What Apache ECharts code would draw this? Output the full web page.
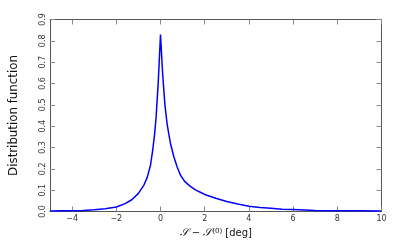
<!DOCTYPE html>
<html><head><meta charset="utf-8">
<script src="https://cdn.jsdelivr.net/npm/echarts@6/dist/echarts.min.js"></script>
<style>html,body{margin:0;padding:0;background:#fff}#c{width:415px;height:244px}</style>
</head><body><div id="c"></div>
<script>
var xValues = [-5, -4.5, -4, -3.5, -3, -2.5, -2, -1.6, -1.3, -1.0, -0.75, -0.6, -0.45, -0.35, -0.27, -0.2, -0.1, 0,
  0.1, 0.2, 0.3, 0.38, 0.45, 0.6, 0.75, 0.9, 1.1, 1.35, 1.6, 1.8, 2.0, 2.5, 3.0, 3.5, 4.0, 4.5, 5.0, 5.5, 6, 7, 8, 9, 10];
var yValues = [0.002, 0.003, 0.004, 0.005, 0.008, 0.013, 0.021, 0.037, 0.055, 0.085, 0.124, 0.16, 0.218, 0.29, 0.36, 0.44, 0.61, 0.83,
  0.64, 0.50, 0.41, 0.36, 0.32, 0.258, 0.21, 0.171, 0.14, 0.118, 0.10, 0.09, 0.08, 0.062, 0.047, 0.035, 0.025, 0.019, 0.015, 0.011, 0.009, 0.005, 0.004, 0.003, 0.002];
var xTicks = [-4, -2, 0, 2, 4, 6, 8, 10];
var yMin = 0, yMax = 0.9, yStep = 0.1;

var data = xValues.map(function (x, i) { return [x, yValues[i]]; });
var chart = echarts.init(document.getElementById('c'), null, {renderer: 'canvas'});
var font = 'DejaVu Sans';
var axisLineStyle = {color: '#555', width: 1};
var tickStyle = {color: '#888', width: 1};
function fmtX(v) { return String(v).replace('-', '\u2212'); }
chart.setOption({
  animation: false,
  grid: {left: 49.5, right: 33.5, top: 19.5, bottom: 31},
  xAxis: [{
    type: 'value', min: -5, max: 10, position: 'bottom',
    axisLine: {show: true, onZero: false, lineStyle: axisLineStyle},
    axisTick: {show: true, inside: true, length: 5, customValues: xTicks, lineStyle: tickStyle},
    axisLabel: {customValues: xTicks, formatter: fmtX, fontFamily: font, fontSize: 8, color: '#333', margin: 3},
    splitLine: {show: false},
    name: '{s|\uD835\uDCAE} \u2212 {s|\uD835\uDCAE}{sup|(0)} [deg]',
    nameLocation: 'middle', nameGap: 16,
    nameTextStyle: {fontFamily: font, fontSize: 10, color: '#111',
      rich: {s: {fontFamily: 'DejaVu Serif', fontSize: 11, fontStyle: 'italic', color: '#111'},
             sup: {fontSize: 7, verticalAlign: 'top', padding: [0, 0, 5, 0], color: '#111', fontFamily: 'DejaVu Serif'}}}
  }, {
    type: 'value', min: -5, max: 10, position: 'top',
    axisLine: {show: true, onZero: false, lineStyle: axisLineStyle},
    axisTick: {show: true, inside: true, length: 5, customValues: xTicks, lineStyle: tickStyle},
    axisLabel: {show: false}, splitLine: {show: false}
  }],
  yAxis: [{
    type: 'value', min: yMin, max: yMax, interval: yStep, position: 'left',
    axisLine: {show: true, onZero: false, lineStyle: axisLineStyle},
    axisTick: {show: true, inside: true, length: 5, lineStyle: tickStyle},
    axisLabel: {rotate: 90, formatter: function (v) { return v.toFixed(1); }, fontFamily: font, fontSize: 8, color: '#333', margin: 3},
    splitLine: {show: false},
    name: 'Distribution function', nameLocation: 'middle', nameGap: 30,
    nameTextStyle: {fontFamily: font, fontSize: 11.8, color: '#111'}
  }, {
    type: 'value', min: yMin, max: yMax, interval: yStep, position: 'right',
    axisLine: {show: true, onZero: false, lineStyle: axisLineStyle},
    axisTick: {show: true, inside: true, length: 5, lineStyle: tickStyle},
    axisLabel: {show: false}, splitLine: {show: false}
  }],
  series: [{
    type: 'line', data: data, showSymbol: false, smooth: false,
    lineStyle: {color: '#0000ff', width: 1.5}
  }]
});
</script></body></html>
